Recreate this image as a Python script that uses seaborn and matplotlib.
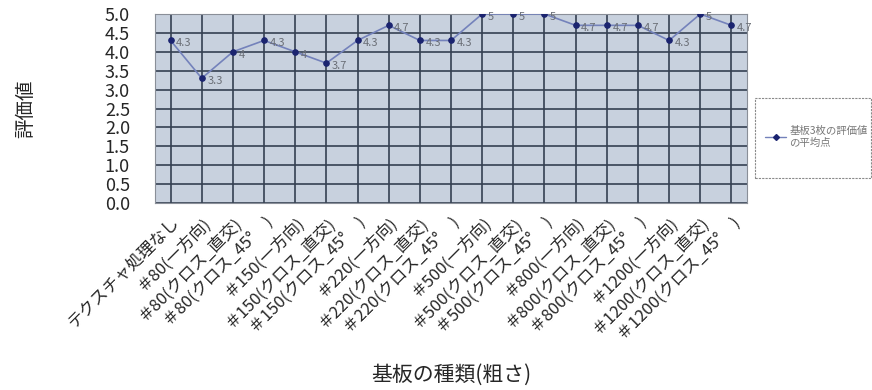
import matplotlib
matplotlib.use("Agg")
import matplotlib.pyplot as plt
from matplotlib.patches import Rectangle
from matplotlib.lines import Line2D
import seaborn as sns
import pandas as pd
import numpy as np

# Substrate types (roughness) and the mean score of three boards each
categories = [
    "テクスチャ処理なし",
    "＃80(一方向)", "＃80(クロス_直交)", "＃80(クロス_45°　)",
    "＃150(一方向)", "＃150(クロス_直交)", "＃150(クロス_45°　)",
    "＃220(一方向)", "＃220(クロス_直交)", "＃220(クロス_45°　)",
    "＃500(一方向)", "＃500(クロス_直交)", "＃500(クロス_45°　)",
    "＃800(一方向)", "＃800(クロス_直交)", "＃800(クロス_45°　)",
    "＃1200(一方向)", "＃1200(クロス_直交)", "＃1200(クロス_45°　)",
]
scores = [4.3, 3.3, 4.0, 4.3, 4.0, 3.7, 4.3, 4.7, 4.3, 4.3,
          5.0, 5.0, 5.0, 4.7, 4.7, 4.7, 4.3, 5.0, 4.7]
y_ticks = [0.0, 0.5, 1.0, 1.5, 2.0, 2.5, 3.0, 3.5, 4.0, 4.5, 5.0]
series_name = "基板3枚の評価値\nの平均点"

sns.set_style("white")
plt.rcParams["font.family"] = ["Noto Sans CJK JP", "DejaVu Sans"]

df = pd.DataFrame({"pos": np.arange(len(categories)), "score": scores})

fig = plt.figure(figsize=(8.72, 3.90), dpi=100)
ax = fig.add_axes([155 / 872, 1 - 203 / 390, 592 / 872, 189 / 390])
ax.set_facecolor("#c8d1de")

line_color = "#7482bb"
marker_color = "#1b2470"
sns.lineplot(data=df, x="pos", y="score", ax=ax, color=line_color,
             linewidth=1.2, marker="o", markersize=4,
             markerfacecolor=marker_color, markeredgecolor=marker_color,
             zorder=5, legend=False)

for x, v in zip(df["pos"], df["score"]):
    ax.annotate(f"{v:g}", (x, v), xytext=(4, -2), textcoords="offset points",
                ha="left", va="center", fontsize=8, color="#6a6e76",
                zorder=6)

ax.set_xlim(-0.5, len(categories) - 0.5)
ax.set_ylim(0, 5)
ax.set_yticks(y_ticks)
ax.set_yticklabels([f"{t:.1f}" for t in y_ticks], fontsize=13)
ax.set_xticks(df["pos"])
ax.set_xticklabels(categories, rotation=45, ha="right",
                   rotation_mode="anchor", fontsize=12)
ax.set_xticks(np.arange(len(categories) + 1) - 0.5, minor=True)
ax.tick_params(axis="x", which="major", length=0, pad=8)
ax.tick_params(axis="x", which="minor", direction="in", length=3,
               color="#555b66", width=0.8)
ax.tick_params(axis="y", length=0, pad=18)

ax.grid(True, which="major", color="#354052", linewidth=1.2)
ax.set_axisbelow(True)
for s in ax.spines.values():
    s.set_color("#8a8f98")
    s.set_linewidth(0.8)

ax.set_xlabel("基板の種類(粗さ)", fontsize=15)
ax.xaxis.set_label_coords(0.5, (203 - 375) / 189)
ax.xaxis.label.set_va("center")
ax.set_ylabel("評価値", fontsize=14)
ax.yaxis.set_label_coords((26 - 155) / 592, (203 - 109) / 189)
ax.yaxis.label.set_va("center")
ax.yaxis.label.set_ha("center")

# Legend box to the right of the plot area
fig.patches.append(Rectangle((755 / 872, 1 - 178 / 390), 116 / 872, 80 / 390,
                             transform=fig.transFigure, facecolor="white",
                             edgecolor="#8a8a8a", linewidth=0.8,
                             linestyle=(0, (2, 1))))
handle = Line2D([], [], color=line_color, linewidth=1.0, marker="D",
                markersize=3, markerfacecolor=marker_color,
                markeredgecolor=marker_color)
fig.legend([handle], [series_name], loc="center left",
           bbox_to_anchor=(756 / 872, 1 - 137 / 390), frameon=False,
           fontsize=7.5, handlelength=2.0, handletextpad=0.3,
           labelcolor="#777777")

fig.savefig("out.png", dpi=100)
